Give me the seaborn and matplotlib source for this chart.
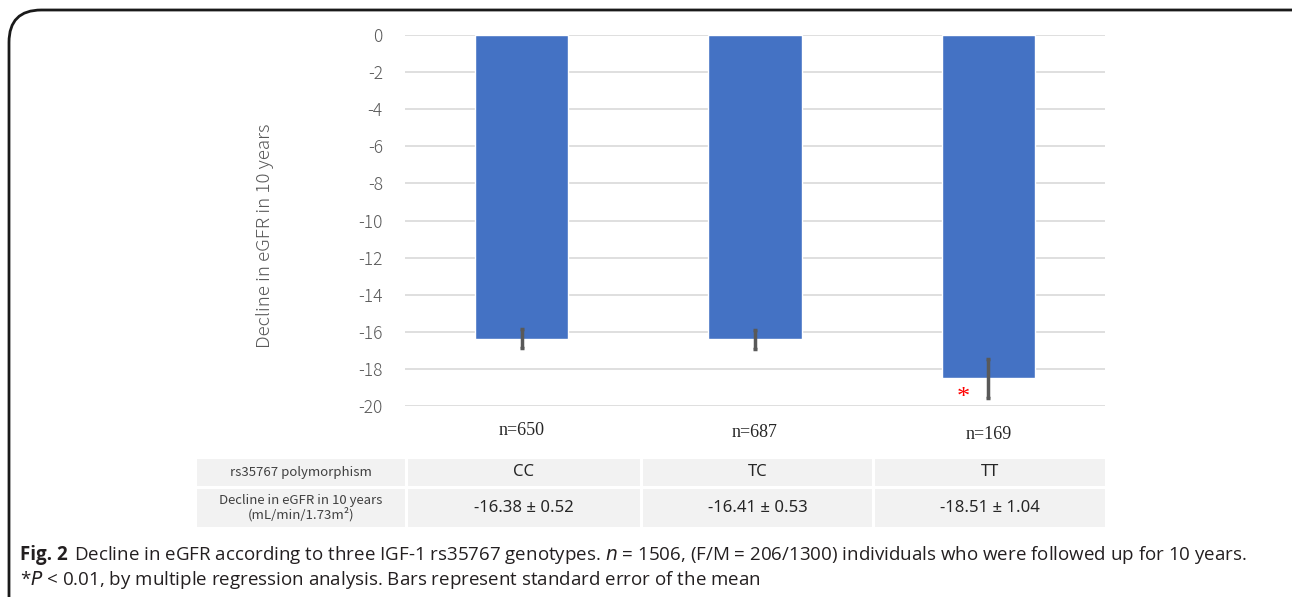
import numpy as np
import pandas as pd
import matplotlib
matplotlib.use("Agg")
import matplotlib.pyplot as plt
import seaborn as sns
from matplotlib.patches import FancyBboxPatch, Rectangle

# data
genotypes = ["CC", "TC", "TT"]
decline = [-16.38, -16.41, -18.51]
sem = [0.52, 0.53, 1.04]
n_labels = ["n=650", "n=687", "n=169"]
row_headers = ["rs35767 polymorphism", "Decline in eGFR in 10 years\n(mL/min/1.73m²)"]
yticks = list(range(0, -21, -2))

sns.set_theme(style="white")
plt.rcParams['font.family'] = ['Noto Sans CJK JP', 'DejaVu Sans']

W, H = 1292, 597
fig = plt.figure(figsize=(W / 100, H / 100), dpi=100)

def px(x0, y0, x1, y1):
    # pixel box -> figure fraction [l, b, w, h]
    return [x0 / W, 1 - y1 / H, (x1 - x0) / W, (y1 - y0) / H]

ax = fig.add_axes(px(405, 35, 1105, 406))
df = pd.DataFrame({"genotype": genotypes, "decline": decline})
sns.barplot(data=df, x="genotype", y="decline", color="#4472c4", saturation=1,
            width=0.4, errorbar=None, ax=ax, zorder=2)
ax.errorbar(np.arange(len(genotypes)), decline, yerr=sem, fmt="none",
            ecolor="#595959", elinewidth=2.5, capsize=1.5, capthick=2.5, zorder=3)

ax.set_xlim(-0.5, 2.5)
ax.set_ylim(-20, 0)
ax.set_yticks(yticks)
ax.set_yticklabels([str(t) for t in yticks], color="#595959", fontsize=12.5,
                   fontweight="light")
ax.yaxis.grid(True, color="#d9d9d9", linewidth=1.2, zorder=0)
ax.set_axisbelow(True)
ax.tick_params(axis="y", length=0, pad=16)
ax.set_xticks([])
ax.set_xlabel("")
ax.set_ylabel("Decline in eGFR in 10 years", color="#595959", fontsize=13.5,
              fontweight="light")
ax.yaxis.set_label_coords(-0.187, 0.46)
for s in ax.spines.values():
    s.set_visible(False)

# significance marker
ax.text(2 - 0.105, -19.55, "*", color="red", fontsize=19, ha="center", va="center",
        family="Liberation Serif")

# n labels under bars
n_y = [-21.3, -21.45, -21.55]
for i, (lab, y) in enumerate(zip(n_labels, n_y)):
    ax.text(i, y, lab, ha="center", va="center", fontsize=13,
            family="Liberation Serif", clip_on=False)

# table under the chart
tax = fig.add_axes(px(197, 459, 1105, 527))
tax.set_xlim(197, 1105)
tax.set_ylim(527, 459)
tax.axis("off")
cols = [(197, 405), (408, 640), (643, 872), (875, 1105)]
rows = [(459, 486), (489, 527)]
cells = [[row_headers[0]] + genotypes,
         [row_headers[1]] + ["%.2f \u00b1 %.2f" % (d, e) for d, e in zip(decline, sem)]]
for r, (y0, y1) in enumerate(rows):
    for c, (x0, x1) in enumerate(cols):
        tax.add_patch(Rectangle((x0, y0), x1 - x0, y1 - y0, facecolor="#f2f2f2",
                                edgecolor="none"))
        if c == 0:
            tax.text((x0 + x1) / 2, (y0 + y1) / 2, cells[r][c], ha="center", va="center",
                     fontsize=9.5, color="#404040", linespacing=1.0)
        else:
            tax.text((x0 + x1) / 2, (y0 + y1) / 2, cells[r][c], ha="center", va="center",
                     fontsize=12, color="#262626", family=["Noto Sans", "DejaVu Sans"])

# caption frame
frame = FancyBboxPatch((9 / W, -0.1), 1.2, (1 - 10 / H) + 0.1,
                       boxstyle="round,pad=0,rounding_size=0.025", transform=fig.transFigure,
                       facecolor="none", edgecolor="#1a1a1a", linewidth=2, zorder=10,
                       mutation_aspect=W / H)
fig.patches.append(frame)

fig.text(20 / W, 1 - 555 / H, "Fig. 2", fontsize=13.5, fontweight="bold",
         family="Open Sans", va="center", color="#231f20")
fig.text(74 / W, 1 - 555 / H,
         "Decline in eGFR according to three IGF-1 rs35767 genotypes. $\\it{n}$ = 1506, "
         "(F/M = 206/1300) individuals who were followed up for 10 years.",
         fontsize=13.5, family="Open Sans", va="center", color="#231f20")
fig.text(20 / W, 1 - 580 / H,
         "*$\\it{P}$ < 0.01, by multiple regression analysis. Bars represent standard error of the mean",
         fontsize=13.5, family="Open Sans", va="center", color="#231f20")

fig.savefig("out.png", dpi=100)
